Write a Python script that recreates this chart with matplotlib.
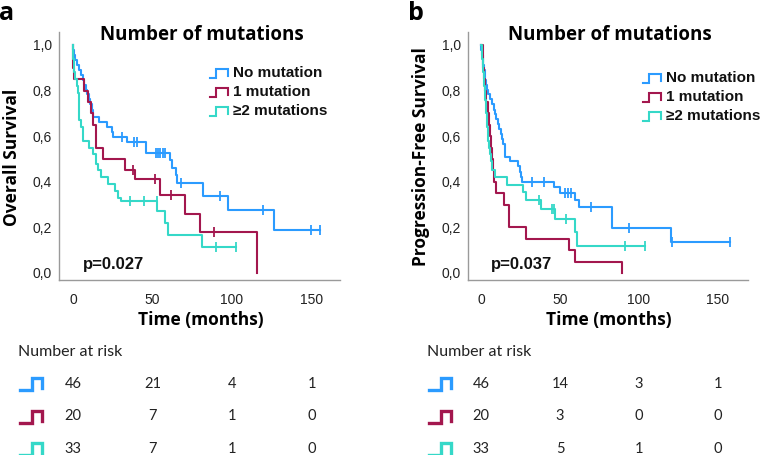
import numpy as np
import matplotlib
matplotlib.use("Agg")
import matplotlib.pyplot as plt
from matplotlib.lines import Line2D
from matplotlib.transforms import blended_transform_factory

W, H = 762, 455

groups = ['No mutation', '1 mutation', '\u22652 mutations']
colors = ['#2b9bff', '#a3174e', '#35d8c8']

# overall survival (a): step times, survival after step, censored times
os_none_t = [0, 0.3, 0.8, 1.5, 2.5, 3.5, 5, 6, 7, 8, 9, 10, 11, 11.8, 12.8, 16.6, 21.2, 24.3,
             25.3, 33.8, 46, 61, 62.5, 64.5, 65.6, 81.6, 97.7, 126.4]
os_none_s = [1.0, 0.978, 0.957, 0.935, 0.913, 0.891, 0.87, 0.848, 0.826, 0.804, 0.783, 0.761,
             0.739, 0.717, 0.686, 0.664, 0.642, 0.62, 0.598, 0.576, 0.525, 0.497, 0.46, 0.43,
             0.393, 0.338, 0.276, 0.188]
os_none_c = [30.6, 38.5, 40.5, 52, 53.5, 55, 56.5, 58, 67.7, 92.5, 119.7, 149.5, 155.5]

os_one_t = [0, 0.3, 0.6, 7, 9.6, 11.5, 12.8, 14.3, 19, 33, 39, 54.7, 70.4, 79.8, 115.5]
os_one_s = [1.0, 0.90, 0.85, 0.80, 0.75, 0.70, 0.65, 0.55, 0.50, 0.45, 0.41, 0.34, 0.26, 0.18, 0.0]
os_one_c = [37.5, 51.6, 61.4, 88.6]

os_two_t = [0, 0.3, 0.8, 1.5, 2.5, 3, 3.5, 4, 4.8, 6.5, 10.3, 12.4, 14.5, 16, 17.4, 22.2, 26.4,
            28.5, 30.5, 53, 58, 59.5, 81]
os_two_s = [1.0, 0.94, 0.88, 0.85, 0.82, 0.79, 0.73, 0.67, 0.64, 0.58, 0.55, 0.52, 0.48, 0.45,
            0.42, 0.39, 0.36, 0.33, 0.315, 0.27, 0.22, 0.165, 0.115]
os_two_c = [35.8, 44.4, 52.6, 89.7, 102.5]

# progression-free survival (b)
pfs_none_t = [0, 0.3, 0.8, 1.2, 1.6, 2, 2.4, 2.8, 3.2, 3.6, 4.2, 5.5, 7, 8, 9, 9.5, 10.5, 11.5,
              12.5, 13.5, 14.2, 15.2, 18.4, 23.6, 24.7, 25.2, 25.7, 46, 50, 59.5, 62.2, 83, 120.3]
pfs_none_s = [1.0, 0.978, 0.957, 0.935, 0.913, 0.891, 0.87, 0.848, 0.826, 0.804, 0.783, 0.761,
              0.739, 0.717, 0.696, 0.674, 0.652, 0.63, 0.609, 0.587, 0.565, 0.51, 0.49, 0.467,
              0.445, 0.422, 0.40, 0.375, 0.35, 0.32, 0.29, 0.195, 0.135]
pfs_none_c = [32, 40, 53.2, 55, 57, 69.4, 94, 121, 157.5]

pfs_one_t = [0, 1, 1.4, 2.2, 2.5, 3.4, 4.4, 5.4, 6, 6.6, 7.2, 7.8, 8.4, 9.5, 14.8, 17.9, 28.5,
             55.5, 59.2, 89.5]
pfs_one_s = [1.0, 0.95, 0.90, 0.85, 0.80, 0.75, 0.70, 0.65, 0.60, 0.55, 0.50, 0.45, 0.40, 0.35,
             0.30, 0.20, 0.15, 0.10, 0.05, 0.0]
pfs_one_c = []

pfs_two_t = [0, 0.5, 0.9, 1.2, 1.5, 1.8, 2.1, 2.5, 2.8, 3.1, 3.4, 3.7, 4.0, 4.3, 4.6, 5.2, 5.8,
             6.5, 7.2, 9, 16.2, 26.8, 28.5, 38, 46.8, 59.5, 60.5]
pfs_two_s = [1.0, 0.97, 0.94, 0.91, 0.88, 0.85, 0.82, 0.79, 0.76, 0.73, 0.70, 0.67, 0.64, 0.61,
             0.58, 0.55, 0.52, 0.49, 0.45, 0.42, 0.385, 0.355, 0.32, 0.28, 0.235, 0.18, 0.12]
pfs_two_c = [36.7, 44.7, 46, 53.8, 91, 104]

risk_times = [0, 50, 100, 150]
os_risk = [[46, 21, 4, 1], [20, 7, 1, 0], [33, 7, 1, 0]]
pfs_risk = [[46, 14, 3, 1], [20, 3, 0, 0], [33, 5, 1, 0]]

head = 'Open Sans'
arial = 'Liberation Sans'
fig = plt.figure(figsize=(W / 100, H / 100), dpi=100)


def fx(x):
    return x / W


def fy(y):
    return 1 - y / H


def icon(x0, yc, w, h, color, lw, split=0.5):
    xs = [x0, x0 + split * w, x0 + split * w, x0 + w, x0 + w]
    ys = [yc + h / 2, yc + h / 2, yc - h / 2, yc - h / 2, yc + h * 0.35]
    fig.add_artist(Line2D([fx(v) for v in xs], [fy(v) for v in ys], color=color, lw=lw,
                          solid_joinstyle='miter', transform=fig.transFigure))


def km(ax, t, s, c, color):
    t = np.array(t, float)
    s = np.array(s, float)
    end = max(t[-1], max(c) if c else 0)
    ax.step(np.append(t, end), np.append(s, s[-1]), where='post', color=color, lw=1.5)
    if c:
        c = np.array(c, float)
        cy = s[np.searchsorted(t, c, side='right') - 1]
        ax.plot(c, cy, ls='none', marker='|', ms=7, mew=1.3, color=color)


panels = [
    dict(box=(59, 340), xlim=(-8.8, 167.9), letter='a', ylab='Overall Survival', p='p=0.027',
         curves=[(os_none_t, os_none_s, os_none_c), (os_one_t, os_one_s, os_one_c),
                 (os_two_t, os_two_s, os_two_c)], risk=os_risk, leg=(210, 233, 73), px=83),
    dict(box=(468, 748), xlim=(-8.2, 169), letter='b', ylab='Progression-Free Survival',
         p='p=0.037',
         curves=[(pfs_none_t, pfs_none_s, pfs_none_c), (pfs_one_t, pfs_one_s, pfs_one_c),
                 (pfs_two_t, pfs_two_s, pfs_two_c)], risk=pfs_risk, leg=(643, 666, 78), px=491),
]

for k, pn in enumerate(panels):
    x0, x1 = pn['box']
    ax = fig.add_axes([fx(x0), fy(280), (x1 - x0) / W, 248 / H])
    for (t, s, c), col in zip(pn['curves'], colors):
        km(ax, t, s, c, col)
    ax.set_xlim(*pn['xlim'])
    ax.set_ylim(-0.031, 1.057)
    ax.set_xticks(risk_times)
    ax.set_yticks([0, 0.2, 0.4, 0.6, 0.8, 1.0])
    ax.set_yticklabels(['0,0', '0,2', '0,4', '0,6', '0,8', '1,0'])
    for sp in ['top', 'right']:
        ax.spines[sp].set_visible(False)
    for sp in ['left', 'bottom']:
        ax.spines[sp].set_color('#9a9a9a')
        ax.spines[sp].set_linewidth(1.0)
    ax.tick_params(length=0, labelsize=10, labelcolor='#222222', pad=5)
    ax.tick_params(axis='x', pad=9)
    for lab in ax.get_xticklabels() + ax.get_yticklabels():
        lab.set_fontfamily(arial)

    cx = (x0 + x1) / 2
    fig.text(fx(cx + 2), fy(35), 'Number of mutations', family=head, weight='bold',
             fontsize=13.5, ha='center', va='center')
    fig.text(fx(x0 - 47), fy(157), pn['ylab'], family=head, weight='bold', fontsize=12.5,
             rotation=90, ha='center', va='center')
    fig.text(fx(x0 - 52), fy(13), pn['letter'], family=head, weight='bold', fontsize=18,
             ha='center', va='center')
    fig.text(fx(cx + 1), fy(320), 'Time (months)', family=head, weight='bold', fontsize=12.5,
             ha='center', va='center')
    fig.text(fx(pn['px']), fy(265), pn['p'], family=arial, weight='bold', fontsize=12,
             ha='left', va='center', color='#111111')

    ix, tx, ly = pn['leg']
    for i, (g, col) in enumerate(zip(groups, colors)):
        yy = ly + i * 19
        icon(ix, yy, 18, 9, col, 1.5, split=0.35)
        fig.text(fx(tx), fy(yy), g, family=arial, weight='bold', fontsize=11,
                 ha='left', va='center', color='#111111')

    fig.text(fx(x0 - 41), fy(352), 'Number at risk', family='Lato', fontsize=11.5,
             ha='left', va='center', color='#222222')
    tr = blended_transform_factory(ax.transData, fig.transFigure)
    for i, (row, col) in enumerate(zip(pn['risk'], colors)):
        yy = 384 + i * 32.5
        icon(x0 - 39, yy, 22, 12, col, 2.4, split=0.55)
        for tt, n in zip(risk_times, row):
            ax.text(tt, fy(yy), str(n), transform=tr, family='Lato', fontsize=10.5,
                    ha='center', va='center', color='#222222')

fig.savefig('out.png', dpi=100)
